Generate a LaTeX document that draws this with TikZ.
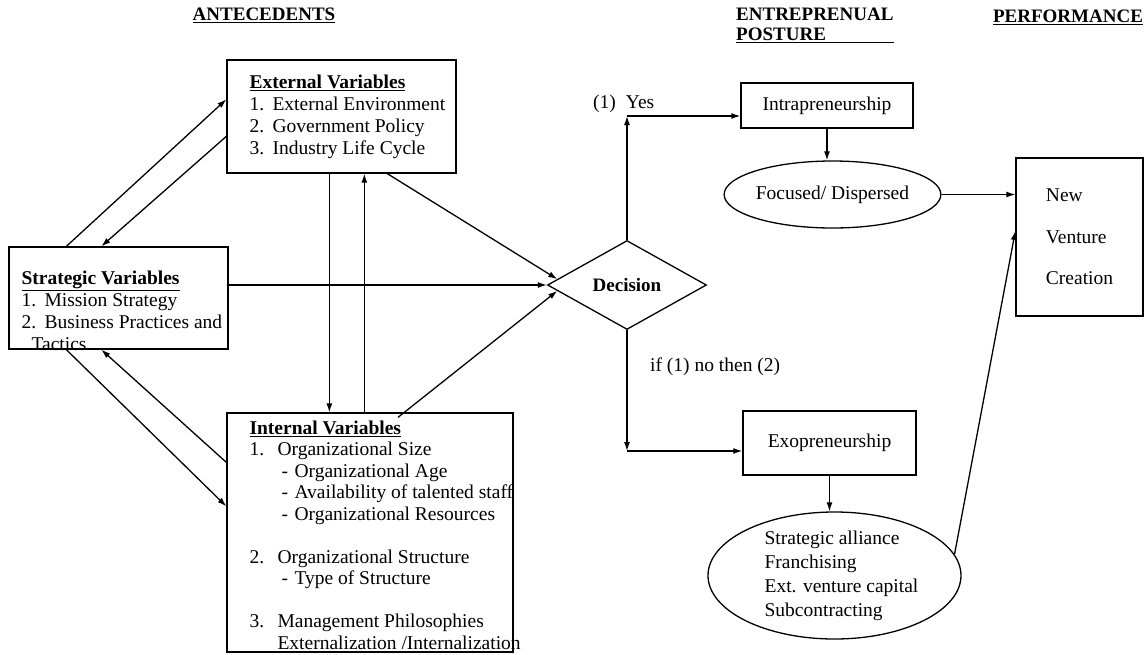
\documentclass[tikz,border=0pt]{standalone}
\usepackage{fontspec}
\setmainfont{Liberation Serif}
\usepackage{calc}
\usepackage{tikz}
\usetikzlibrary{calc}
\usetikzlibrary{positioning}
\usetikzlibrary{shapes.geometric}
\usetikzlibrary{arrows.meta}

\tikzset{
  box/.style={draw, line width=1.3pt, rectangle, inner sep=0pt},
  oval/.style={draw, line width=1.3pt, ellipse, inner sep=0pt},
  txt/.style={inner sep=0pt, align=left},
  ttl/.style={inner sep=0pt, font=\fontsize{19}{20}\selectfont\bfseries},
  conn/.style={line width=1.3pt, -{Latex[length=9pt,width=6pt]}}
}

\begin{document}
\begin{tikzpicture}[x=1pt, y=-1pt, every node/.style={font=\fontsize{19.5}{22}\selectfont}]
    \useasboundingbox (0,0) rectangle (1146,654);

    \node[ttl] (antttl) at (264,15) {\underline{ANTECEDENTS}};
    \node[ttl, anchor=north west, align=left] (postttl) at (736,8) {ENTREPRENUAL\\ \underline{\makebox[\widthof{ENTREPRENUAL}][l]{POSTURE}}};
    \node[ttl] (perfttl) at (1068,17) {\underline{PERFORMANCE}};

    \node[box, minimum width=229pt, minimum height=113pt] (ext) at (341.5,116.5) {};
    \node[txt, anchor=north west] (exttxt) at ([xshift=23pt,yshift=-15pt]ext.north west) {\underline{\textbf{External Variables}}\\ \makebox[23pt][l]{1.}External Environment\\ \makebox[23pt][l]{2.}Government Policy\\ \makebox[23pt][l]{3.}Industry Life Cycle};

    \node[box, minimum width=219pt, minimum height=102pt] (strat) at (118.5,298) {};
    \node[txt, anchor=north west] (strattxt) at ([xshift=13pt,yshift=-24pt]strat.north west) {\underline{\textbf{Strategic Variables}}\\ \makebox[23pt][l]{1.}Mission Strategy\\ \makebox[23pt][l]{2.}Business Practices and\\ \hspace{10pt}Tactics};

    \node[box, minimum width=286pt, minimum height=239pt] (intv) at (370,532.5) {};
    \node[txt, anchor=north west, font=\fontsize{19.5}{21.5}\selectfont] (intvtxt) at ([xshift=23pt,yshift=-8pt]intv.north west) {\underline{\textbf{Internal Variables}}\\ \makebox[28pt][l]{1.}Organizational Size\\ \hspace{32pt}\makebox[13pt][l]{-}Organizational Age\\ \hspace{32pt}\makebox[13pt][l]{-}Availability of talented staff\\ \hspace{32pt}\makebox[13pt][l]{-}Organizational Resources\\[21.5pt] \makebox[28pt][l]{2.}Organizational Structure\\ \hspace{32pt}\makebox[13pt][l]{-}Type of Structure\\[21.5pt] \makebox[28pt][l]{3.}Management Philosophies\\ \hspace{28pt}Externalization /Internalization};

    \node[draw, diamond, line width=1.3pt, minimum width=159pt, minimum height=89pt, aspect=1.79, inner sep=0pt, font=\fontsize{19}{22}\selectfont\bfseries] (dec) at (627,285) {Decision};

    \node[box, minimum width=172pt, minimum height=45pt] (intra) at (827,105.5) {Intrapreneurship};
    \node[oval, minimum width=183pt, minimum height=67pt] (focd) at (832.5,194.5) {Focused/ Dispersed};
    \node[box, minimum width=127pt, minimum height=158pt, align=left] (nvc) at (1079.5,237) {New\\[20pt]Venture\\[19pt]Creation};
    \node[box, minimum width=173pt, minimum height=64pt] (exo) at (829.5,443) {Exopreneurship};
    \node[oval, minimum width=253pt, minimum height=127pt] (alli) at (834.5,575.5) {};
    \node[txt, font=\fontsize{19.5}{24}\selectfont] (allitxt) at ([xshift=7pt]alli.center) {Strategic alliance\\ Franchising\\ Ext. venture capital\\ Subcontracting};

    \node[anchor=west, inner sep=0pt] (yeslbl) at (593,104) {(1)\hspace{10pt}Yes};
    \node[anchor=west, inner sep=0pt] (nolbl) at (650,367) {if (1) no then (2)};

    \coordinate (yesc) at (627,116);
    \coordinate (noc) at (627,451);

    \draw[conn] ([xshift=58pt]strat.north west) -- ([yshift=-40pt]ext.north west);
    \draw[conn] ([yshift=-77pt]ext.north west) -- ([xshift=93pt]strat.north west);
    \draw[conn] ([xshift=58pt]strat.south west) -- ([yshift=-94pt]intv.north west);
    \draw[conn] ([yshift=-50pt]intv.north west) -- ([xshift=93pt]strat.south west);
    \draw[conn] ([xshift=103pt]ext.south west) -- ([xshift=103pt]intv.north west);
    \draw[conn] ([xshift=138pt]intv.north west) -- ([xshift=138pt]ext.south west);
    \draw[conn] ([xshift=161pt]ext.south west) -- ($(dec.west)!0.13!(dec.north)$);
    \draw[conn] (strat.east |- dec.west) -- (dec.west);
    \draw[conn] ([xshift=28pt,yshift=-5pt]intv.north) -- ($(dec.west)!0.13!(dec.south)$);
    \draw[conn] (dec.north) -- (yesc);
    \draw[conn] (yesc) -- (yesc -| intra.west);
    \draw[conn] (intra.south) -- (intra.south |- focd.north);
    \draw[conn] (focd.east) -- (focd.east -| nvc.west);
    \draw[conn] (dec.south) -- (noc);
    \draw[conn] (noc) -- (noc -| exo.west);
    \draw[conn] (exo.south) -- (exo.south |- alli.north);
    \draw[conn] (alli.10) -- ([yshift=6pt]nvc.west);
\end{tikzpicture}
\end{document}
